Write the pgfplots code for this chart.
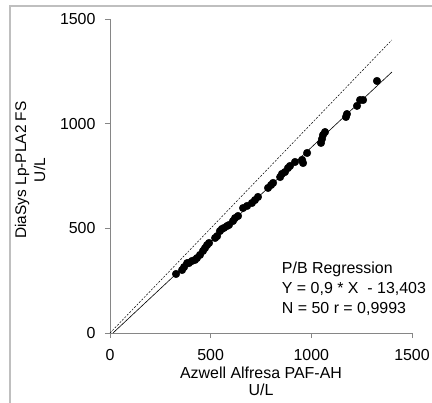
\documentclass[border=0pt]{standalone}
\usepackage{pgfplots}
\pgfplotsset{compat=1.18}
\usepackage{fontspec}
\setmainfont{Liberation Sans}
\definecolor{axisgray}{HTML}{868686}
\definecolor{framegray}{HTML}{BFBFBF}

\begin{document}
\begin{tikzpicture}
\begin{axis}[
    scale only axis,
    width=302bp, height=314bp,
    xmin=0, xmax=1500, ymin=0, ymax=1500,
    axis x line*=bottom, axis y line*=left,
    axis line style={draw=axisgray, line width=0.6bp},
    tick style={draw=axisgray, line width=0.6bp},
    tick align=outside, major tick length=5bp,
    xtick={0,500,1000,1500}, ytick={0,500,1000,1500},
    tick label style={font=\fontsize{16}{18}\selectfont},
    /pgf/number format/assume math mode=true,
    /pgf/number format/1000 sep={},
    xticklabel style={yshift=-8bp},
    yticklabel style={xshift=-6bp},
    xlabel={Azwell Alfresa PAF-AH\\U/L},
    ylabel={DiaSys Lp-PLA2 FS\\U/L},
    xlabel style={align=center, font=\fontsize{16}{17.5}\selectfont, yshift=1bp},
    ylabel style={align=center, font=\fontsize{15.5}{19}\selectfont, yshift=8bp, xshift=6bp},
    clip=false,
]
% line of identity
\addplot[black, line width=0.5bp, dash pattern=on 2bp off 1.5bp] coordinates {(0,0) (1400,1400)};
% Passing-Bablok fit
\addplot[black, line width=0.6bp] coordinates {(14.9,0) (1400,1246.6)};
% samples
\addplot[only marks, mark=*, mark size=3.8bp, black] coordinates {
(328,282) (358,301) (368,315) (383,334) (392,334) (407,344) (422,349)
(432,358) (447,373) (462,392) (472,406) (482,420) (492,430) (522,454)
(532,463) (546,487) (556,497) (566,502) (581,511) (591,516) (611,535)
(621,549) (636,559) (661,597) (681,607) (705,621) (720,635) (735,650)
(785,693) (800,707) (810,717) (845,745) (854,760) (869,769) (884,788)
(894,798) (919,817) (954,827) (959,812) (979,860) (1048,908) (1053,927)
(1058,946) (1068,960) (1172,1032) (1177,1046) (1227,1085) (1242,1113)
(1257,1113) (1326,1204)
};
\node[anchor=north west, align=left, inner sep=0pt,
      font=\fontsize{16}{20}\selectfont] at (axis cs:853,342)
  {P/B Regression\\Y = 0,9 * X \ - 13,403\\N = 50 r = 0,9993};
\end{axis}
\draw[framegray, line width=1.2bp] (-100bp,-80bp) -- (-100bp,327bp) -- (340bp,327bp);
\pgfresetboundingbox
\useasboundingbox (-110bp,-70bp) rectangle (322bp,333bp);
\end{tikzpicture}
\end{document}
